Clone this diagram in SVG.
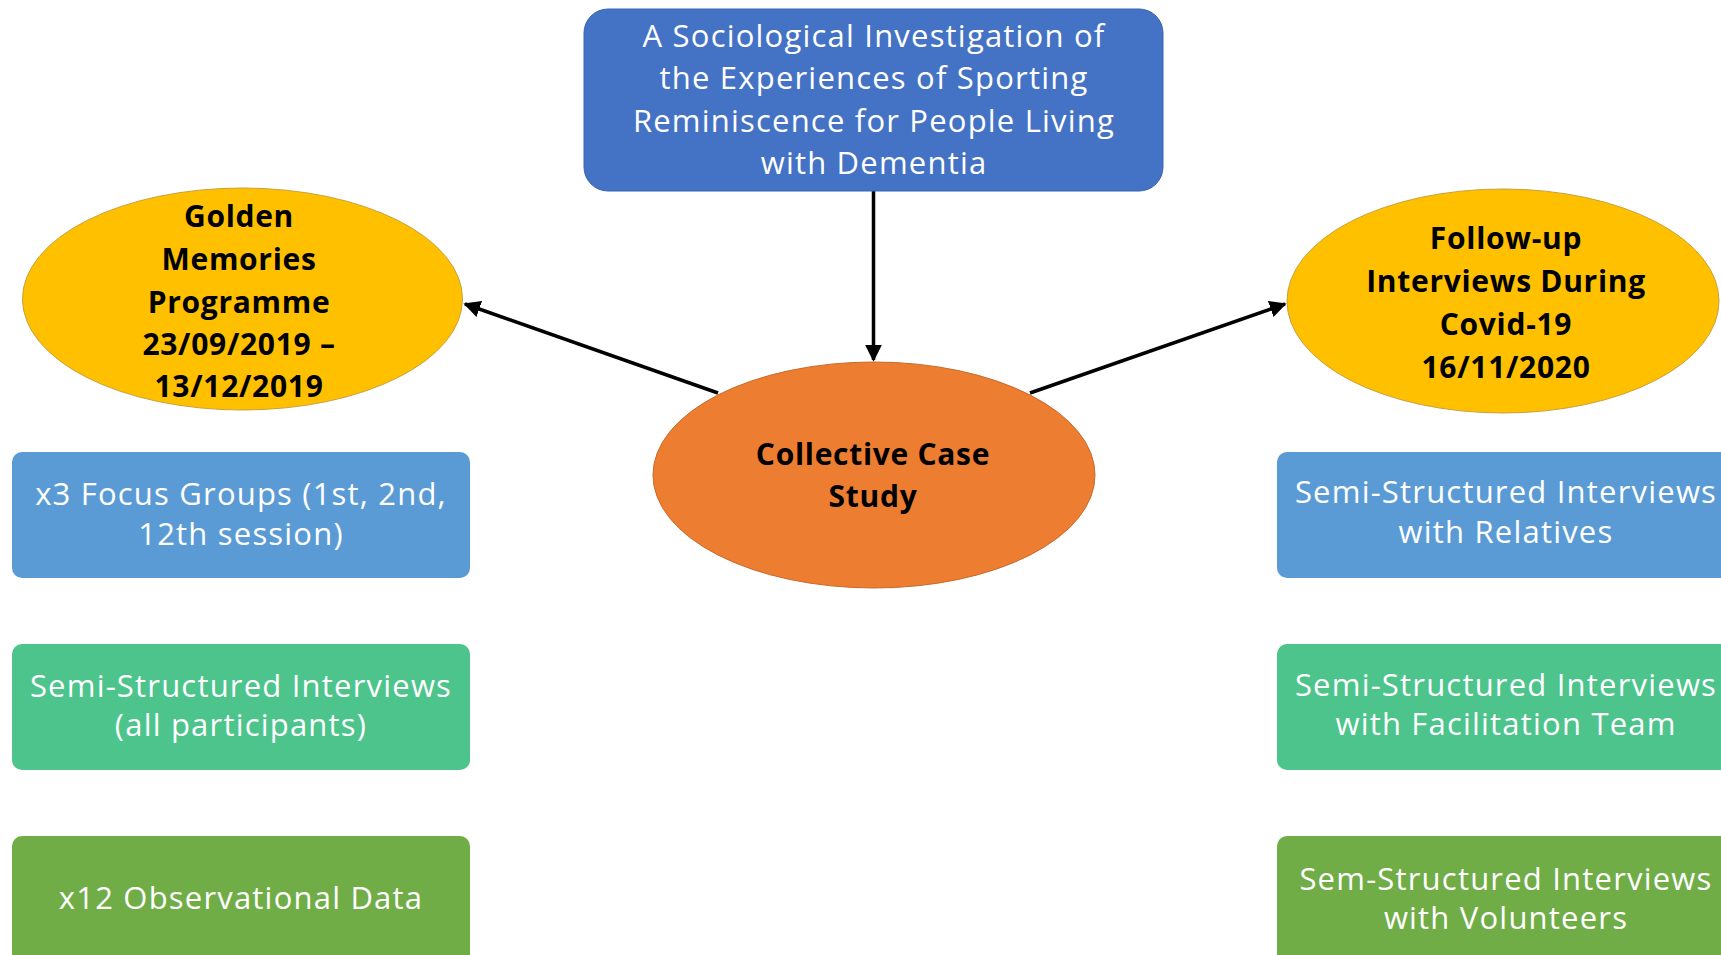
<svg xmlns="http://www.w3.org/2000/svg" width="1721" height="955" viewBox="0 0 1721 955">
<defs>
<style>
.lt{font-family:"Open Sans","Lato",sans-serif;font-size:31px;letter-spacing:1.2px;fill:#ffffff;text-anchor:middle}
.bk{font-family:"Open Sans","Lato",sans-serif;font-size:30px;letter-spacing:0.7px;font-weight:bold;fill:#000000;text-anchor:middle}
.conn{stroke:#000;stroke-width:3.5;fill:none}
</style>
<marker id="ah" viewBox="0 0 10 10" refX="9" refY="5" markerWidth="4.8" markerHeight="4.8" orient="auto" markerUnits="strokeWidth">
<path d="M0,0 L10,5 L0,10 z" fill="#000"/>
</marker>
</defs>
<rect width="1721" height="955" fill="#ffffff"/>
<g id="connectors">
<line class="conn" x1="873.5" y1="191" x2="873.5" y2="360" marker-end="url(#ah)"/>
<line class="conn" x1="718" y1="393" x2="465" y2="304" marker-end="url(#ah)"/>
<line class="conn" x1="1030" y1="393" x2="1285" y2="304" marker-end="url(#ah)"/>
</g>
<g id="title">
<rect x="584" y="9" width="579" height="182" rx="24" fill="#4472C4" stroke="#3A64B0" stroke-width="1"/>
<text class="lt" x="874" y="47">A Sociological Investigation of</text>
<text class="lt" x="874" y="89">the Experiences of Sporting</text>
<text class="lt" x="874" y="132">Reminiscence for People Living</text>
<text class="lt" x="874" y="174">with Dementia</text>
</g>
<g id="golden">
<ellipse cx="242.5" cy="299" rx="220" ry="111" fill="#FFC000" stroke="#C9A03A" stroke-width="1"/>
<text class="bk" x="239" y="227">Golden</text>
<text class="bk" x="239" y="270">Memories</text>
<text class="bk" x="239" y="313">Programme</text>
<text class="bk" x="239" y="355">23/09/2019 –</text>
<text class="bk" x="239" y="397">13/12/2019</text>
</g>
<g id="followup">
<ellipse cx="1503" cy="301" rx="216" ry="112" fill="#FFC000" stroke="#C9A03A" stroke-width="1"/>
<text class="bk" x="1506" y="249">Follow-up</text>
<text class="bk" x="1506" y="292">Interviews During</text>
<text class="bk" x="1506" y="335">Covid-19</text>
<text class="bk" x="1506" y="378">16/11/2020</text>
</g>
<g id="case">
<ellipse cx="874" cy="475" rx="221" ry="113" fill="#ED7D31" stroke="#C86A2A" stroke-width="1"/>
<text class="bk" x="873" y="465">Collective Case</text>
<text class="bk" x="873" y="507">Study</text>
</g>
<g id="focus">
<rect x="12" y="452" width="458" height="126" rx="10" fill="#5B9BD5"/>
<text class="lt" x="241" y="505">x3 Focus Groups (1st, 2nd,</text>
<text class="lt" x="241" y="545">12th session)</text>
</g>
<g id="semi-all">
<rect x="12" y="644" width="458" height="126" rx="10" fill="#4CC48C"/>
<text class="lt" x="241" y="697">Semi-Structured Interviews</text>
<text class="lt" x="241" y="736">(all participants)</text>
</g>
<g id="obs">
<rect x="12" y="836" width="458" height="130" rx="10" fill="#70AD47"/>
<text class="lt" x="241" y="909">x12 Observational Data</text>
</g>
<g id="relatives">
<rect x="1277" y="452" width="460" height="126" rx="10" fill="#5B9BD5"/>
<text class="lt" x="1506" y="503">Semi-Structured Interviews</text>
<text class="lt" x="1506" y="543">with Relatives</text>
</g>
<g id="facilitation">
<rect x="1277" y="644" width="460" height="126" rx="10" fill="#4CC48C"/>
<text class="lt" x="1506" y="696">Semi-Structured Interviews</text>
<text class="lt" x="1506" y="735">with Facilitation Team</text>
</g>
<g id="volunteers">
<rect x="1277" y="836" width="460" height="130" rx="10" fill="#70AD47"/>
<text class="lt" x="1506" y="890">Sem-Structured Interviews</text>
<text class="lt" x="1506" y="929">with Volunteers</text>
</g>
</svg>
